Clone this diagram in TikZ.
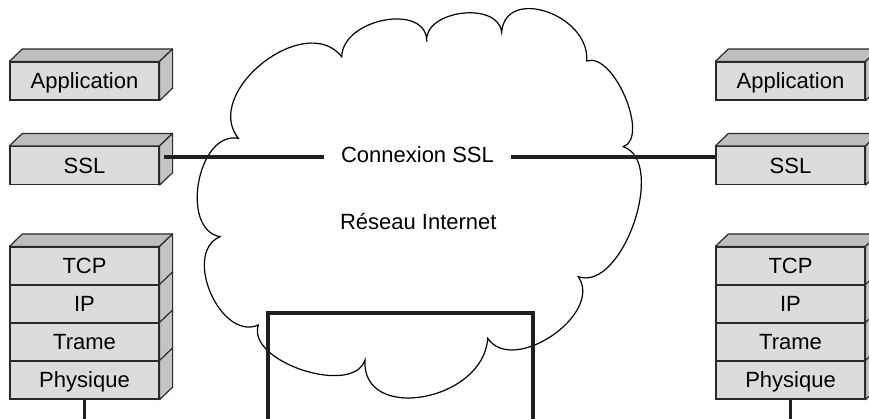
\documentclass[tikz,border=0pt]{standalone}
\usepackage{fontspec}
\setmainfont{Liberation Sans}
\usetikzlibrary{calc}
\definecolor{frontgray}{HTML}{DCDCDC}
\definecolor{topgray}{HTML}{BEBEBE}
\definecolor{sidegray}{HTML}{C4C4C4}
\definecolor{edgegray}{HTML}{2A2A2A}
\begin{document}
\begin{tikzpicture}[x=1pt,y=-1pt,
  layerbox/.style={draw=edgegray, line width=1.2pt, fill=frontgray, minimum width=149pt, minimum height=38pt, inner sep=0pt, text height=15.75pt, text depth=0pt, font=\fontsize{22}{26}\selectfont},
  topface/.style={draw=edgegray, line width=1.2pt, fill=topgray, line join=round},
  sideface/.style={draw=edgegray, line width=1.2pt, fill=sidegray, line join=round},
  thickline/.style={line width=3.5pt, draw=black!88},
  cloudline/.style={draw=black, line width=1.2pt, fill=white},
  plaintext/.style={font=\fontsize{22}{26}\selectfont, text height=15.75pt, text depth=0pt, inner ysep=0pt}]
\useasboundingbox (0,0) rectangle (869,418);
\clip (0,0) rectangle (869,418);

% cloud
\draw[cloudline] (341.7,56.7)
 .. controls (342.8,17.8) and (427.8,2.8) .. (426.7,41.7)
 .. controls (423.4,10.1) and (498.4,0.7) .. (501.7,32.3)
 .. controls (505,-14.3) and (590,14.4) .. (586.7,61)
 .. controls (613.4,51.5) and (650,137.2) .. (623.3,146.7)
 .. controls (667.4,161.9) and (622.4,291.9) .. (578.3,276.7)
 .. controls (603.8,314.2) and (513.2,375.8) .. (487.7,338.3)
 .. controls (483.7,401.6) and (361,423.3) .. (365,360)
 .. controls (353,396.8) and (246.3,361.8) .. (258.3,325)
 .. controls (220.3,341.4) and (182,253.1) .. (220,236.7)
 .. controls (179.4,229.1) and (197.7,130.7) .. (238.3,138.3)
 .. controls (201.9,92.2) and (305.3,10.6) .. (341.7,56.7)
 -- cycle;

% left boxes
\node[layerbox] (appL) at (84.5,81) {Application};
\node[layerbox] (sslL) at (84.5,165.5) {SSL};
\node[layerbox] (tcpL) at (84.5,266) {TCP};
\node[layerbox] (ipL) at (84.5,304) {IP};
\node[layerbox] (trL) at (84.5,342) {Trame};
\node[layerbox] (phL) at (84.5,380) {Physique};
% right boxes
\node[layerbox] (appR) at (790.5,81) {Application};
\node[layerbox] (sslR) at (790.5,165.5) {SSL};
\node[layerbox] (tcpR) at (790.5,266) {TCP};
\node[layerbox] (ipR) at (790.5,304) {IP};
\node[layerbox] (trR) at (790.5,342) {Trame};
\node[layerbox] (phR) at (790.5,380) {Physique};

\foreach \n in {appL,sslL,tcpL,appR,sslR,tcpR}
  \draw[topface] (\n.north west) -- ++(13,-12.5) -- ($(\n.north east)+(13,-12.5)$) -- (\n.north east) -- cycle;
\foreach \n in {appL,sslL,tcpL,ipL,trL,phL,appR,sslR,tcpR,ipR,trR,phR}
  \draw[sideface] (\n.north east) -- ++(13,-12.5) -- ($(\n.south east)+(13,-12.5)$) -- (\n.south east) -- cycle;

% connection SSL
\node[plaintext, inner xsep=17pt] (conn) at (417.5,155) {Connexion SSL};
\coordinate (cs) at ($(sslL.east)+(4,-8.5)$);
\draw[thickline] (cs) -- (cs -| conn.west);
\draw[thickline] (conn.east |- cs) -- (sslR.west |- cs);

\node[plaintext] (net) at (418.3,221.7) {Réseau Internet};

% physical links
\coordinate (rbl) at (268,430);
\coordinate (rtl) at (268,313);
\coordinate (rtr) at (533,313);
\coordinate (rbr) at (533,430);
\draw[thickline, line join=miter] (rbl) -- (rtl) -- (rtr) -- (rbr);
\draw[thickline] (phL.south) -- ++(0,30);
\draw[thickline] (phR.south) -- ++(0,30);
\end{tikzpicture}
\end{document}
